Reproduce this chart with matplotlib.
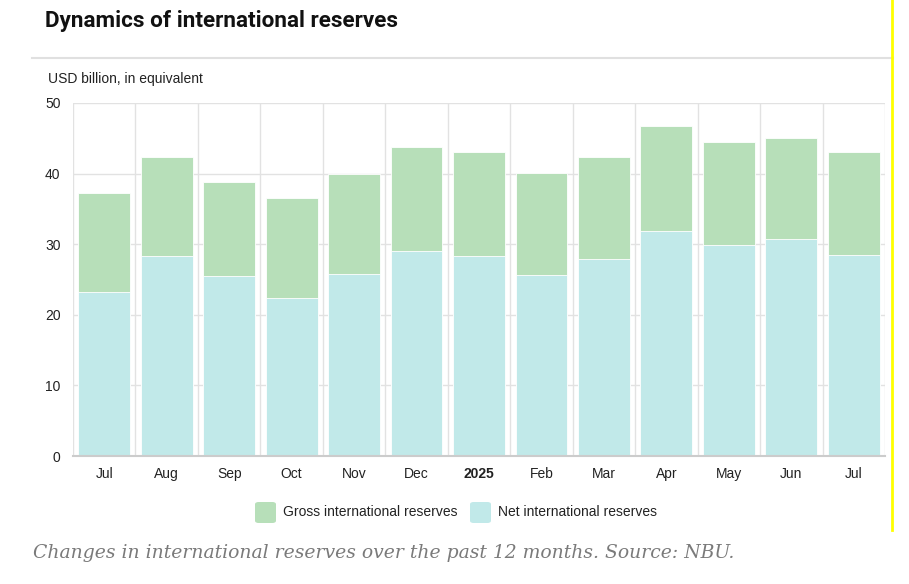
"""Dynamics of international reserves (NBU), bar chart."""

import matplotlib.pyplot as plt
from matplotlib.lines import Line2D
from matplotlib.patches import FancyBboxPatch

months = ["Jul", "Aug", "Sep", "Oct", "Nov", "Dec", "2025",
          "Feb", "Mar", "Apr", "May", "Jun", "Jul"]
gross = [37.2, 42.3, 38.8, 36.5, 39.9, 43.8, 43.0, 40.1, 42.4, 46.7, 44.5, 45.0, 43.0]
net = [23.3, 28.3, 25.5, 22.4, 25.8, 29.1, 28.3, 25.6, 27.9, 31.9, 29.9, 30.7, 28.4]
y_ticks = [0, 10, 20, 30, 40, 50]

GREEN = "#b7dfb9"
CYAN = "#c1e9e9"
GRID = "#e2e2e2"

plt.rcParams["font.family"] = ["Liberation Sans", "DejaVu Sans"]

W, H = 909, 584
fig = plt.figure(figsize=(W / 100, H / 100), dpi=100)
ax = fig.add_axes([73 / W, 1 - 456 / H, (885 - 73) / W, (456 - 103) / H])

x = range(len(months))
ax.bar(x, gross, width=0.83, color=GREEN, edgecolor="white", linewidth=0.6, zorder=2)
ax.bar(x, net, width=0.83, color=CYAN, edgecolor="white", linewidth=0.6, zorder=3)

ax.set_xlim(-0.5, len(months) - 0.5)
ax.set_ylim(0, 50)
ax.set_yticks(y_ticks)
ax.set_yticklabels([str(t) for t in y_ticks], fontsize=10, color="#222222")
ax.set_xticks(list(x))
ax.set_xticklabels(months, fontsize=10, color="#222222")
for lbl in ax.get_xticklabels():
    if lbl.get_text() == "2025":
        lbl.set_fontweight("bold")
ax.tick_params(axis="both", length=0)
ax.tick_params(axis="x", pad=8)
ax.tick_params(axis="y", pad=9)

# grille : horizontales aux ticks, verticales aux bords des catégories
for t in y_ticks[1:]:
    ax.axhline(t, color=GRID, lw=1, zorder=1)
for b in range(len(months) + 1):
    ax.axvline(b - 0.5, color=GRID, lw=1, zorder=1)
for side in ("top", "right", "left"):
    ax.spines[side].set_visible(False)
ax.spines["bottom"].set_color("#cccccc")
ax.spines["bottom"].set_linewidth(1.5)
ax.spines["bottom"].set_zorder(4)

# titre, unité, légende, légende photo
fig.text(45 / W, 1 - 21 / H, "Dynamics of international reserves", fontsize=16.2,
         fontweight="bold", family=["Roboto", "DejaVu Sans"], va="center", color="#111111")
fig.add_artist(Line2D([32 / W, 893 / W], [1 - 58 / H, 1 - 58 / H], color="#e0e0e0", lw=1.5))
fig.add_artist(Line2D([892 / W, 892 / W], [1, 1 - 530 / H], color="#ffff00", lw=2))
fig.text(48 / W, 1 - 79 / H, "USD billion, in equivalent", fontsize=10, va="center", color="#222222")

for px, color, label in [(255, GREEN, "Gross international reserves"),
                         (470, CYAN, "Net international reserves")]:
    fig.add_artist(FancyBboxPatch((px / W, 1 - 523 / H), 21 / W, 21 / H,
                                  boxstyle="round,pad=0,rounding_size=0.004",
                                  transform=fig.transFigure, color=color, lw=0))
    fig.text((px + 28) / W, 1 - 512 / H, label, fontsize=10, va="center", color="#222222")

fig.text(33 / W, 1 - 553 / H,
         "Changes in international reserves over the past 12 months. Source: NBU.",
         fontsize=13.5, style="italic", family=["DejaVu Serif"],
         va="center", color="#7a7a7a")

fig.savefig("out.png", dpi=100)
